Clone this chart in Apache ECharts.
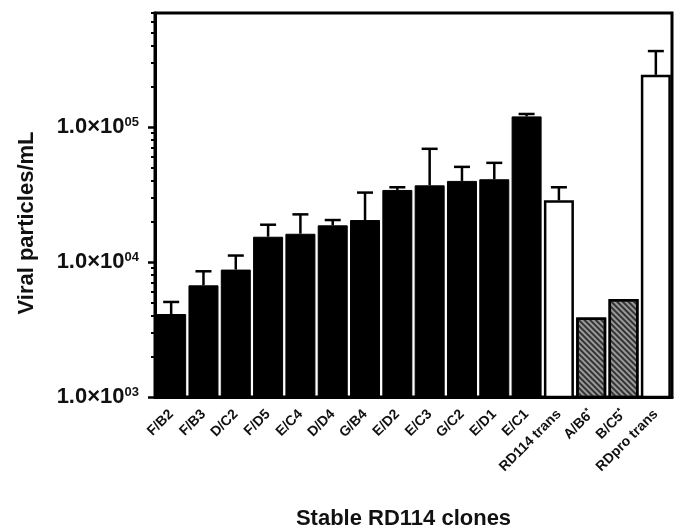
<!DOCTYPE html>
<html>
<head>
<meta charset="utf-8">
<script src="https://cdn.jsdelivr.net/npm/echarts@6/dist/echarts.min.js"></script>
<style>
    html, body {margin: 0; padding: 0; background: #fff;}
    #main {width: 681px; height: 530px;}
</style>
</head>
<body>
<div id="main"></div>
<script>
// categories on x
var clones = ['F/B2', 'F/B3', 'D/C2', 'F/D5', 'E/C4', 'D/D4', 'G/B4', 'E/D2', 'E/C3',
    'G/C2', 'E/D1', 'E/C1', 'RD114 trans', 'A/B6*', 'B/C5*', 'RDpro trans'];
// kind of bar: clone = filled, trans = open control, star = hatched
var kinds = ['clone', 'clone', 'clone', 'clone', 'clone', 'clone', 'clone', 'clone', 'clone',
    'clone', 'clone', 'clone', 'trans', 'star', 'star', 'trans'];
// mean viral particles/mL
var titers = [4120, 6720, 8790, 15400, 16200, 18700, 20470, 34200, 37000,
    39900, 41050, 120000, 28650, 3890, 5330, 243600];
// upper error (SD)
var errPlus = [940, 1820, 2380, 3500, 6350, 1770, 12230, 1600, 32000,
    10800, 13250, 5000, 7150, null, null, 122000];
var majorTicks = [1000, 10000, 100000];
var minorTicks = [2000, 3000, 4000, 5000, 6000, 7000, 8000, 9000,
    20000, 30000, 40000, 50000, 60000, 70000, 80000, 90000,
    200000, 300000, 400000, 500000, 600000, 700000];

var FONT = 'Liberation Sans, Arial, sans-serif';

function barStyle(kind) {
    if (kind == 'trans') {
        return {color: '#fff', borderColor: '#000', borderWidth: 2.5};
    }
    if (kind == 'star') {
        return {
            color: '#9a9a9a', borderColor: '#000', borderWidth: 2.5,
            decal: {
                symbol: 'rect', symbolSize: 1, color: '#333',
                dashArrayX: [1, 0], dashArrayY: [1.3, 1.5],
                rotation: Math.PI / 4
            }
        };
    }
    return {color: '#000', borderColor: '#000', borderWidth: 1};
}

var barData = titers.map(function (v, i) {
    return {value: v, itemStyle: barStyle(kinds[i])};
});

var errData = [];
for (var i = 0; i < titers.length; i++) {
    if (errPlus[i] != null) {
        errData.push([i, titers[i], titers[i] + errPlus[i]]);
    }
}

var myChart = echarts.init(document.getElementById('main'));

var yCommon = {
    type: 'log',
    logBase: 10,
    min: 1000,
    max: 700000,
    position: 'left',
    offset: 0,
    splitLine: {show: false}
};

var option = {
    animation: false,
    grid: {
        left: 155, right: 9, top: 13, bottom: 133,
        containLabel: false,
        outerBoundsMode: 'none',
        show: true, borderColor: '#000', borderWidth: 3
    },
    xAxis: {
        type: 'category',
        data: clones,
        name: 'Stable RD114 clones',
        nameLocation: 'middle',
        nameGap: 111,
        nameTextStyle: {
            fontFamily: FONT, fontWeight: 'bold', fontSize: 22, color: '#111',
            padding: [0, 20, 0, 0]
        },
        axisLine: {lineStyle: {color: '#000', width: 3}},
        axisTick: {alignWithLabel: true, length: 6, lineStyle: {color: '#000', width: 2.5}},
        axisLabel: {
            rotate: 45, margin: 15, interval: 0,
            fontFamily: FONT, fontWeight: 'bold', fontSize: 14, color: '#111',
            formatter: function (v) {
                return v.replace('*', '{s|*}');
            },
            rich: {
                s: {fontFamily: FONT, fontWeight: 'bold', fontSize: 9, color: '#111', padding: [0, 0, 7, 0]}
            }
        }
    },
    yAxis: [
        Object.assign({}, yCommon, {
            name: 'Viral particles/mL',
            nameLocation: 'middle',
            nameGap: 117,
            nameRotate: 90,
            nameTextStyle: {
                fontFamily: FONT, fontWeight: 'bold', fontSize: 22, color: '#111',
                padding: [0, 36, 0, 0]
            },
            axisLine: {show: true, lineStyle: {color: '#000', width: 3}},
            axisTick: {show: true, length: 7, customValues: majorTicks, lineStyle: {color: '#000', width: 2.5}},
            axisLabel: {
                customValues: majorTicks,
                margin: 16,
                formatter: function (v) {
                    var e = Math.round(Math.log(v) / Math.LN10);
                    return '1.0×10{sup|0' + e + '}';
                },
                fontFamily: FONT, fontWeight: 'bold', fontSize: 22, color: '#111',
                rich: {
                    sup: {fontFamily: FONT, fontWeight: 'bold', fontSize: 13, color: '#111', padding: [0, 0, 10, 0]}
                }
            }
        }),
        Object.assign({}, yCommon, {
            axisLine: {show: false},
            axisTick: {show: true, length: 4, customValues: minorTicks, lineStyle: {color: '#000', width: 2}},
            axisLabel: {show: false}
        })
    ],
    series: [{
        type: 'bar',
        data: barData,
        barWidth: 30,
        clip: true
    }, {
        type: 'custom',
        data: errData,
        z: 3,
        renderItem: function (params, api) {
            var x = api.value(0);
            var lo = api.coord([x, api.value(1)]);
            var hi = api.coord([x, api.value(2)]);
            var half = 8;
            var st = {stroke: '#000', lineWidth: 2.5};
            return {
                type: 'group',
                children: [{
                    type: 'line',
                    shape: {x1: lo[0], y1: lo[1], x2: hi[0], y2: hi[1]},
                    style: st
                }, {
                    type: 'line',
                    shape: {x1: hi[0] - half, y1: hi[1], x2: hi[0] + half, y2: hi[1]},
                    style: st
                }]
            };
        }
    }]
};
myChart.setOption(option);
</script>
</body>
</html>
